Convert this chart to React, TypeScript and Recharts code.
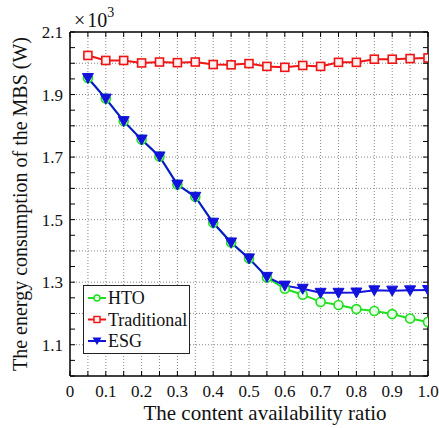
import {
  LineChart,
  Line,
  XAxis,
  YAxis,
  CartesianGrid,
  Legend,
  ReferenceArea,
} from "recharts";

const ratios = [0.05, 0.1, 0.15, 0.2, 0.25, 0.3, 0.35, 0.4, 0.45, 0.5, 0.55, 0.6, 0.65, 0.7, 0.75, 0.8, 0.85, 0.9, 0.95, 1.0];
const htoValues = [1.953, 1.887, 1.815, 1.756, 1.702, 1.612, 1.573, 1.49, 1.427, 1.376, 1.315, 1.279, 1.26, 1.237, 1.227, 1.214, 1.208, 1.198, 1.184, 1.173];
const traditionalValues = [2.025, 2.009, 2.009, 2.001, 2.004, 2.002, 2.004, 1.996, 1.995, 1.999, 1.99, 1.987, 1.993, 1.99, 2.003, 2.003, 2.013, 2.013, 2.015, 2.017];
const esgValues = [1.953, 1.887, 1.815, 1.756, 1.702, 1.612, 1.573, 1.49, 1.427, 1.376, 1.317, 1.289, 1.279, 1.266, 1.266, 1.267, 1.274, 1.273, 1.274, 1.275];

const xTicks = [0, 0.05, 0.1, 0.15, 0.2, 0.25, 0.3, 0.35, 0.4, 0.45, 0.5, 0.55, 0.6, 0.65, 0.7, 0.75, 0.8, 0.85, 0.9, 0.95, 1.0];
const xTickLabels: Record<string, string> = {
  "0": "0", "0.1": "0.1", "0.2": "0.2", "0.3": "0.3", "0.4": "0.4", "0.5": "0.5",
  "0.6": "0.6", "0.7": "0.7", "0.8": "0.8", "0.9": "0.9", "1": "1.0",
};
const xGrid = [0.05, 0.1, 0.15, 0.2, 0.25, 0.3, 0.35, 0.4, 0.45, 0.5, 0.55, 0.6, 0.65, 0.7, 0.75, 0.8, 0.85, 0.9, 0.95];
const yTicks = [1.0, 1.05, 1.1, 1.15, 1.2, 1.25, 1.3, 1.35, 1.4, 1.45, 1.5, 1.55, 1.6, 1.65, 1.7, 1.75, 1.8, 1.85, 1.9, 1.95, 2.0, 2.05, 2.1];
const yTickLabels: Record<string, string> = {
  "1.1": "1.1", "1.3": "1.3", "1.5": "1.5", "1.7": "1.7", "1.9": "1.9", "2.1": "2.1",
};
const yGrid = [1.1, 1.2, 1.3, 1.4, 1.5, 1.6, 1.7, 1.8, 1.9, 2.0];

const GREEN = "#1ee01e";
const RED = "#f01414";
const BLUE = "#1212dc";
const FONT = "'Liberation Serif', serif";

const data = ratios.map((r, i) => ({
  ratio: r,
  hto: htoValues[i],
  traditional: traditionalValues[i],
  esg: esgValues[i],
}));

const TICK = 5;

function BottomTick(props: any) {
  const { x, y, payload } = props;
  const label = xTickLabels[String(payload.value)];
  return (
    <g>
      <line x1={x} x2={x} y1={y} y2={y - TICK} stroke="#000" />
      {label && (
        <text x={x} y={y + 21} textAnchor="middle" fontSize={17} fontFamily={FONT} fill="#111">
          {label}
        </text>
      )}
    </g>
  );
}

function TopTick(props: any) {
  const { x, y } = props;
  return <line x1={x} x2={x} y1={y} y2={y + TICK} stroke="#000" />;
}

function LeftTick(props: any) {
  const { x, y, payload } = props;
  const label = yTickLabels[String(payload.value)];
  return (
    <g>
      <line x1={x} x2={x + TICK} y1={y} y2={y} stroke="#000" />
      {label && (
        <text x={x - 7} y={y + 6} textAnchor="end" fontSize={17} fontFamily={FONT} fill="#111">
          {label}
        </text>
      )}
    </g>
  );
}

function RightTick(props: any) {
  const { x, y } = props;
  return <line x1={x} x2={x - TICK} y1={y} y2={y} stroke="#000" />;
}

function SquareDot(props: any) {
  const { cx, cy, index } = props;
  return <rect key={`s-${index}`} x={cx - 4} y={cy - 4} width={8} height={8} fill="#fff0f0" stroke={RED} strokeWidth={1.6} />;
}

function CircleDot(props: any) {
  const { cx, cy, index } = props;
  return <circle key={`c-${index}`} cx={cx} cy={cy} r={4.5} fill="#e6ffe6" stroke={GREEN} strokeWidth={1.6} />;
}

function TriangleDot(props: any) {
  const { cx, cy, index } = props;
  return (
    <polygon
      key={`t-${index}`}
      points={`${cx - 5.5},${cy - 4.5} ${cx + 5.5},${cy - 4.5} ${cx},${cy + 5.5}`}
      fill={BLUE}
      stroke={BLUE}
      strokeWidth={1}
    />
  );
}

const legendItems = [
  { name: "HTO", color: GREEN, marker: "circle" },
  { name: "Traditional", color: RED, marker: "square" },
  { name: "ESG", color: BLUE, marker: "triangle" },
];

function LegendBox() {
  return (
    <svg width={105} height={67} style={{ display: "block", background: "#fff", border: "1px solid #222" }}>
      {legendItems.map((it, i) => {
        const cy = 12 + i * 21.5;
        return (
          <g key={it.name}>
            <line x1={4} x2={22} y1={cy} y2={cy} stroke={it.color} strokeWidth={2} />
            {it.marker === "circle" && <circle cx={13} cy={cy} r={3} fill="#e6ffe6" stroke={it.color} strokeWidth={1.4} />}
            {it.marker === "square" && <rect x={10} y={cy - 3} width={6} height={6} fill="#fff0f0" stroke={it.color} strokeWidth={1.4} />}
            {it.marker === "triangle" && (
              <polygon points={`${8.5},${cy - 3.5} ${17.5},${cy - 3.5} ${13},${cy + 4}`} fill={it.color} />
            )}
            <text x={24} y={cy + 6} fontSize={18} fontFamily={FONT} fill="#111">
              {it.name}
            </text>
          </g>
        );
      })}
    </svg>
  );
}

export default function App() {
  return (
    <div style={{ position: "absolute", left: 0, top: 0, width: 439, height: 428, background: "#fff" }}>
      <LineChart width={439} height={428} data={data} margin={{ top: 31, right: 10, left: 0, bottom: 0 }}>
        <CartesianGrid
          horizontalValues={yGrid}
          verticalValues={xGrid}
          stroke="#888"
          strokeDasharray="1 2"
          strokeWidth={1}
        />
        <XAxis
          dataKey="ratio"
          type="number"
          domain={[0, 1]}
          ticks={xTicks}
          interval={0}
          tickSize={0}
          tickMargin={0}
          tick={BottomTick}
          axisLine={{ stroke: "#000" }}
          tickLine={false}
          height={52}
          allowDataOverflow
          label={{
            content: () => (
              <text x={265} y={420} textAnchor="middle" fontSize={21} fontFamily={FONT} fill="#111">
                The content availability ratio
              </text>
            ),
          }}
        />
        <XAxis
          xAxisId="top"
          orientation="top"
          dataKey="ratio"
          type="number"
          domain={[0, 1]}
          ticks={xTicks}
          interval={0}
          tickSize={0}
          tickMargin={0}
          tick={TopTick}
          axisLine={{ stroke: "#000" }}
          tickLine={false}
          height={1}
          allowDataOverflow
          label={{
            content: () => (
              <text x={74} y={27} fontSize={20} fontFamily={FONT} fill="#111">
                ×<tspan dx={2}>10</tspan>
                <tspan dy={-10} fontSize={14}>3</tspan>
              </text>
            ),
          }}
        />
        <YAxis
          type="number"
          domain={[1.0, 2.1]}
          ticks={yTicks}
          interval={0}
          tickSize={0}
          tickMargin={0}
          tick={LeftTick}
          axisLine={{ stroke: "#000" }}
          tickLine={false}
          width={70}
          allowDataOverflow
          label={{
            content: () => (
              <text
                x={22}
                y={204}
                transform="rotate(-90 22 204)"
                textAnchor="middle"
                dominantBaseline="middle"
                fontSize={20}
                fontFamily={FONT}
                fill="#111"
              >
                The energy consumption of the MBS (W)
              </text>
            ),
          }}
        />
        <YAxis
          yAxisId="right"
          orientation="right"
          type="number"
          domain={[1.0, 2.1]}
          ticks={yTicks}
          interval={0}
          tickSize={0}
          tickMargin={0}
          tick={RightTick}
          axisLine={{ stroke: "#000" }}
          tickLine={false}
          width={1}
          allowDataOverflow
        />
        <ReferenceArea x1={0} x2={1} y1={1.0} y2={2.1} fill="none" stroke="#000" strokeWidth={1} ifOverflow="extendDomain" />
        <Legend
          layout="horizontal"
          verticalAlign="middle"
          align="center"
          content={() => <LegendBox />}
          wrapperStyle={{ position: "absolute", left: 83, top: 285, width: 107, height: 69 }}
        />
        <Line dataKey="hto" name="HTO" stroke={GREEN} strokeWidth={2} dot={CircleDot} isAnimationActive={false} />
        <Line
          dataKey="traditional"
          name="Traditional"
          xAxisId="top"
          yAxisId="right"
          stroke={RED}
          strokeWidth={2}
          dot={SquareDot}
          isAnimationActive={false}
        />
        <Line dataKey="esg" name="ESG" stroke={BLUE} strokeWidth={2} dot={TriangleDot} isAnimationActive={false} />
      </LineChart>
    </div>
  );
}
